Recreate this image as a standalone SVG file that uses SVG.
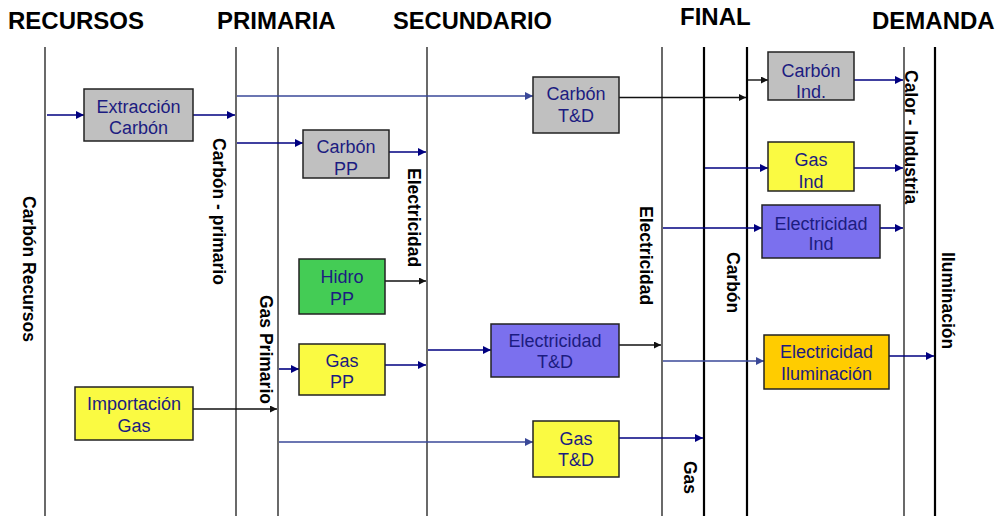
<svg xmlns="http://www.w3.org/2000/svg" width="995" height="516" viewBox="0 0 995 516">
<defs>
<style>
.hdr{font-family:"Liberation Sans",Arial,sans-serif;font-weight:bold;font-size:24px;fill:#000}
.lane{stroke:#444;stroke-width:1.6}
.lane2{stroke:#000;stroke-width:2.2}
.vl{font-family:"Liberation Sans",Arial,sans-serif;font-weight:bold;font-size:17.5px;fill:#000}
.box{stroke:#222;stroke-width:1.5}
.bt{font-family:"Liberation Sans",Arial,sans-serif;font-size:18px;fill:#1C1C80;text-anchor:middle}
.gray{fill:#C0C0C0}.yel{fill:#FAFA42}.grn{fill:#44CC55}.pur{fill:#7B70EE}.org{fill:#FFCC00}
.cn{fill:none;stroke:#000080;stroke-width:1.6;marker-end:url(#an)}
.cb{fill:none;stroke:#3A4898;stroke-width:1.6;marker-end:url(#ab)}
.ck{fill:none;stroke:#111;stroke-width:1.4;marker-end:url(#ak)}
</style>
<marker id="an" viewBox="0 0 10 10" refX="10" refY="5" markerWidth="9" markerHeight="8" markerUnits="userSpaceOnUse" orient="auto"><path d="M0,0L10,5L0,10z" fill="#000080"/></marker>
<marker id="ab" viewBox="0 0 10 10" refX="10" refY="5" markerWidth="9" markerHeight="8" markerUnits="userSpaceOnUse" orient="auto"><path d="M0,0L10,5L0,10z" fill="#3A4898"/></marker>
<marker id="ak" viewBox="0 0 10 10" refX="10" refY="5" markerWidth="9" markerHeight="7" markerUnits="userSpaceOnUse" orient="auto"><path d="M0,0L10,5L0,10z" fill="#111"/></marker>
</defs>
<rect width="995" height="516" fill="#fff"/>
<g id="headers">
<text class="hdr" x="8" y="29">RECURSOS</text>
<text class="hdr" x="217" y="29">PRIMARIA</text>
<text class="hdr" x="393" y="29" textLength="159" lengthAdjust="spacingAndGlyphs">SECUNDARIO</text>
<text class="hdr" x="680" y="25">FINAL</text>
<text class="hdr" x="872" y="29">DEMANDA</text>
</g>
<g id="lanes">
<line class="lane" x1="45" y1="47" x2="45" y2="516"/>
<line class="lane" x1="236" y1="47" x2="236" y2="516"/>
<line class="lane" x1="278" y1="47" x2="278" y2="516"/>
<line class="lane" x1="427" y1="47" x2="427" y2="516"/>
<line class="lane" x1="662" y1="47" x2="662" y2="516"/>
<line class="lane2" x1="704" y1="47" x2="704" y2="516"/>
<line class="lane2" x1="747" y1="47" x2="747" y2="516"/>
<line class="lane" x1="904" y1="47" x2="904" y2="516"/>
<line class="lane2" x1="935" y1="47" x2="935" y2="516"/>
</g>
<g id="lane-labels">
<text class="vl" transform="translate(23,196) rotate(90)">Carbón Recursos</text>
<text class="vl" transform="translate(213,138) rotate(90)">Carbón - primario</text>
<text class="vl" transform="translate(260,295) rotate(90)">Gas Primario</text>
<text class="vl" transform="translate(408,168) rotate(90)">Electricidad</text>
<text class="vl" transform="translate(640,206) rotate(90)">Electricidad</text>
<text class="vl" transform="translate(684,461) rotate(90)">Gas</text>
<text class="vl" transform="translate(727,252) rotate(90)">Carbón</text>
<text class="vl" transform="translate(905,70) rotate(90)">Calor - Industria</text>
<text class="vl" transform="translate(942,252) rotate(90)">Iluminación</text>
</g>
<g id="connectors">
<path class="cn" d="M47,115H84"/>
<path class="cn" d="M193,115H235"/>
<path class="cb" d="M237,96H533"/>
<path class="cn" d="M237,143H303"/>
<path class="cn" d="M389,152H426"/>
<path class="ck" d="M619,97.5H746"/>
<path class="ck" d="M748,80H768"/>
<path class="cn" d="M854,80H903"/>
<path class="cn" d="M705,168H768"/>
<path class="cn" d="M854,168H903"/>
<path class="cn" d="M663,228H762"/>
<path class="cn" d="M880,228H903"/>
<path class="ck" d="M385,281H426"/>
<path class="cn" d="M385,365H426"/>
<path class="cn" d="M279,369H299"/>
<path class="ck" d="M193,409H277"/>
<path class="cn" d="M428,350H491"/>
<path class="ck" d="M619,345H661"/>
<path class="cb" d="M663,361H764"/>
<path class="cn" d="M889,356H934"/>
<path class="cb" d="M279,442H533"/>
<path class="cn" d="M619,438H703"/>
</g>
<g id="extraccion-carbon"><rect class="box gray" x="84" y="89" width="109" height="52"/><text class="bt" x="138.5" y="113">Extracción</text><text class="bt" x="138.5" y="134">Carbón</text></g>
<g id="carbon-pp"><rect class="box gray" x="303" y="130" width="86" height="48"/><text class="bt" x="346" y="153">Carbón</text><text class="bt" x="346" y="175">PP</text></g>
<g id="carbon-td"><rect class="box gray" x="533" y="77" width="86" height="56"/><text class="bt" x="576" y="100">Carbón</text><text class="bt" x="576" y="122">T&amp;D</text></g>
<g id="carbon-ind"><rect class="box gray" x="768" y="52" width="86" height="48"/><text class="bt" x="811" y="77">Carbón</text><text class="bt" x="811" y="98">Ind.</text></g>
<g id="gas-ind"><rect class="box yel" x="768" y="142" width="86" height="49"/><text class="bt" x="811" y="166">Gas</text><text class="bt" x="811" y="188">Ind</text></g>
<g id="hidro-pp"><rect class="box grn" x="299" y="259" width="86" height="55"/><text class="bt" x="342" y="283">Hidro</text><text class="bt" x="342" y="305">PP</text></g>
<g id="gas-pp"><rect class="box yel" x="299" y="344" width="86" height="51"/><text class="bt" x="342" y="367">Gas</text><text class="bt" x="342" y="388">PP</text></g>
<g id="importacion-gas"><rect class="box yel" x="75" y="387" width="118" height="53"/><text class="bt" x="134" y="410">Importación</text><text class="bt" x="134" y="432">Gas</text></g>
<g id="electricidad-td"><rect class="box pur" x="491" y="324" width="128" height="53"/><text class="bt" x="555" y="347">Electricidad</text><text class="bt" x="555" y="368">T&amp;D</text></g>
<g id="gas-td"><rect class="box yel" x="533" y="421" width="86" height="56"/><text class="bt" x="576" y="445">Gas</text><text class="bt" x="576" y="466">T&amp;D</text></g>
<g id="electricidad-ind"><rect class="box pur" x="762" y="205" width="118" height="53"/><text class="bt" x="821" y="230">Electricidad</text><text class="bt" x="821" y="250">Ind</text></g>
<g id="electricidad-iluminacion"><rect class="box org" x="764" y="335" width="125" height="54"/><text class="bt" x="826.5" y="358">Electricidad</text><text class="bt" x="826.5" y="380">Iluminación</text></g>
</svg>
